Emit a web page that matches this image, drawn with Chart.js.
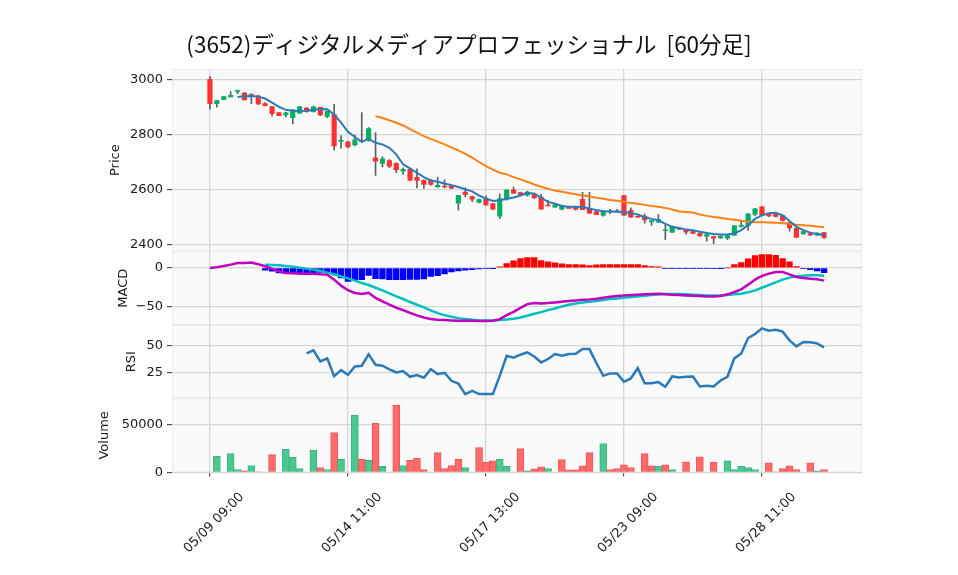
<!DOCTYPE html>
<html>
<head>
<meta charset="utf-8">
<script src="https://cdn.jsdelivr.net/npm/chart.js@4.4.1/dist/chart.umd.min.js"></script>
<style>
html, body { margin: 0; padding: 0; background: #fff; }
</style>
</head>
<body>
<canvas id="chart" width="958" height="575"></canvas>
<script>
// (3652) 60-minute bars, 05/09 09:00 .. 05/29 14:00
var titleText = '(3652)ディジタルメディアプロフェッショナル  [60分足]';
var tickIdx = [0, 20, 40, 60, 80];
var tickLabels = ['05/09 09:00', '05/14 11:00', '05/17 13:00', '05/23 09:00', '05/28 11:00'];
var priceTicks = [2400, 2600, 2800, 3000];
var macdTicks = [-50, 0];
var rsiTicks = [25, 50];
var volTicks = [0, 50000];

var opens = [3000, 2911, 2926, 2936, 2955, 2950, 2944, 2940, 2912, 2901,
  2879, 2870, 2860, 2877, 2895, 2882, 2898, 2865, 2872, 2774,
  2772, 2761, 2773, 2778, 2714, 2694, 2704, 2694, 2666, 2672,
  2643, 2632, 2633, 2608, 2610, 2612, 2549, 2590, 2573, 2552,
  2563, 2548, 2502, 2563, 2598, 2588, 2578, 2583, 2571, 2541,
  2535, 2527, 2537, 2536, 2563, 2530, 2519, 2506, 2517, 2521,
  2577, 2523, 2501, 2502, 2481, 2480, 2449, 2444, 2457, 2451,
  2446, 2439, 2429, 2428, 2423, 2422, 2433, 2465, 2467, 2508,
  2536, 2508, 2511, 2504, 2479, 2458, 2437, 2439, 2433, 2442];
var highs = [3010, 2923, 2937, 2955, 2961, 2953, 2948, 2941, 2915, 2901,
  2879, 2881, 2889, 2903, 2897, 2903, 2898, 2885, 2909, 2795,
  2774, 2797, 2879, 2824, 2806, 2718, 2708, 2696, 2678, 2676,
  2674, 2634, 2636, 2644, 2634, 2614, 2578, 2605, 2575, 2564,
  2575, 2549, 2583, 2599, 2608, 2590, 2593, 2586, 2581, 2559,
  2550, 2542, 2538, 2537, 2589, 2589, 2520, 2522, 2527, 2527,
  2578, 2532, 2502, 2510, 2487, 2508, 2470, 2466, 2458, 2452,
  2447, 2444, 2436, 2429, 2430, 2432, 2468, 2486, 2511, 2530,
  2537, 2512, 2514, 2506, 2480, 2459, 2447, 2440, 2441, 2443];
var lows = [2891, 2899, 2926, 2936, 2948, 2925, 2911, 2908, 2903, 2866,
  2868, 2863, 2838, 2877, 2880, 2880, 2868, 2860, 2742, 2749,
  2750, 2758, 2769, 2775, 2650, 2681, 2678, 2660, 2654, 2630,
  2605, 2603, 2614, 2607, 2605, 2602, 2524, 2572, 2555, 2550,
  2541, 2526, 2493, 2560, 2584, 2580, 2575, 2566, 2527, 2539,
  2535, 2525, 2530, 2524, 2526, 2511, 2507, 2502, 2511, 2517,
  2505, 2497, 2497, 2476, 2468, 2479, 2416, 2442, 2454, 2436,
  2437, 2428, 2411, 2402, 2421, 2416, 2432, 2462, 2450, 2503,
  2504, 2500, 2498, 2484, 2447, 2425, 2436, 2432, 2432, 2420];
var closes = [2911, 2923, 2937, 2942, 2957, 2925, 2940, 2910, 2904, 2875,
  2868, 2878, 2889, 2900, 2882, 2900, 2870, 2883, 2758, 2778,
  2754, 2780, 2777, 2821, 2702, 2711, 2684, 2670, 2672, 2633,
  2632, 2617, 2617, 2614, 2608, 2604, 2578, 2580, 2564, 2562,
  2543, 2527, 2566, 2597, 2586, 2581, 2590, 2569, 2527, 2539,
  2542, 2540, 2530, 2527, 2526, 2513, 2507, 2520, 2519, 2518,
  2506, 2498, 2498, 2488, 2486, 2490, 2451, 2464, 2455, 2444,
  2439, 2430, 2435, 2422, 2429, 2431, 2467, 2469, 2510, 2529,
  2505, 2503, 2501, 2486, 2459, 2425, 2446, 2433, 2440, 2425];
var volumes = [0, 16800, 0, 19600, 3100, 1700, 7300, 700, 0, 18500,
  0, 24100, 15700, 4200, 0, 23100, 5200, 3100, 41600, 13600,
  0, 59800, 13600, 12600, 51100, 6300, 0, 69900, 7300, 12600,
  14700, 3100, 0, 20600, 4200, 7300, 13600, 5200, 0, 25900,
  10500, 12200, 13600, 6300, 0, 24800, 1700, 3800, 5900, 4200,
  0, 13300, 2800, 2800, 7000, 20600, 0, 30100, 3100, 4200,
  8000, 5200, 0, 19600, 7000, 6300, 8000, 3100, 0, 11200,
  0, 16400, 0, 10500, 0, 12200, 3100, 6300, 5200, 3100,
  0, 10100, 700, 4200, 7000, 3100, 0, 10100, 1700, 3100];

var ma5 = [null, null, null, null, 2936, 2938, 2939, 2937, 2930, 2915,
  2900, 2889, 2886, 2885, 2886, 2889, 2892, 2891, 2872, 2842,
  2809, 2790, 2773, 2783, 2769, 2763, 2751, 2727, 2690, 2676,
  2660, 2644, 2632, 2627, 2621, 2615, 2608, 2600, 2592, 2577,
  2566, 2557, 2560, 2565, 2570, 2577, 2587, 2584, 2569, 2554,
  2547, 2539, 2536, 2536, 2535, 2530, 2524, 2520, 2519, 2518,
  2517, 2513, 2508, 2498, 2492, 2487, 2474, 2463, 2459, 2453,
  2451, 2445, 2441, 2437, 2435, 2435, 2439, 2451, 2469, 2492,
  2505, 2513, 2514, 2505, 2484, 2463, 2451, 2442, 2437, 2433];
var ma25 = [null, null, null, null, null, null, null, null, null, null,
  null, null, null, null, null, null, null, null, null, null,
  null, null, null, null, 2866, 2859, 2851, 2842, 2832, 2819,
  2806, 2793, 2783, 2773, 2763, 2752, 2741, 2729, 2715, 2699,
  2684, 2671, 2660, 2654, 2644, 2636, 2627, 2617, 2609, 2602,
  2595, 2591, 2586, 2582, 2577, 2574, 2569, 2565, 2561, 2558,
  2554, 2550, 2547, 2543, 2539, 2536, 2532, 2526, 2519, 2517,
  2515, 2508, 2503, 2499, 2496, 2492, 2489, 2485, 2482, 2480,
  2480, 2479, 2478, 2476, 2474, 2471, 2469, 2467, 2464, 2462];

var macd = [0, 0.9, 2.6, 4.3, 6.5, 6.5, 7, 4.8, 2.2, -0.9,
  -4.3, -6.5, -7, -7.4, -7.4, -7.4, -8.3, -8.7, -15.2, -23,
  -29, -32.6, -33.9, -32.2, -39, -43.5, -47.8, -51.7, -54.8, -58.3,
  -61.7, -64.3, -66.5, -67.4, -67.8, -68.3, -68.7, -68.7, -68.7, -69.1,
  -69.1, -68.7, -66.5, -61.3, -57, -52, -47, -45.7, -46.1, -45.7,
  -44.8, -43.9, -43, -42.2, -41.3, -40.9, -40, -38.7, -37.4, -36.5,
  -35.7, -35.2, -34.8, -34.3, -33.9, -33.5, -34.3, -34.8, -35.2, -35.7,
  -36.1, -36.5, -37, -37, -36.5, -34.3, -31.3, -27.8, -21.7, -15.2,
  -10.4, -7.4, -5.2, -5.2, -8.3, -11.7, -13, -13.9, -14.8, -16.5];
var signal = [null, null, null, null, null, null, null, null, 4.3, 3.9,
  3.5, 2.6, 1.7, 0.4, -0.9, -2.2, -3.9, -6.1, -8.3, -10.9,
  -13.5, -16.5, -19.6, -22.2, -25.7, -29.1, -33, -37, -40.4, -44.3,
  -47.8, -51.3, -55.2, -58.7, -61.3, -63.5, -65.2, -66.5, -67.4, -68.3,
  -68.3, -68.3, -67.8, -67, -66, -64.5, -62.2, -59.6, -57.4, -54.8,
  -52.6, -50, -47.8, -46.1, -44.8, -43.9, -43, -41.7, -40.4, -39.6,
  -38.7, -37.8, -37, -36.1, -35.2, -34.3, -33.9, -33.9, -33.9, -34.3,
  -34.8, -35.2, -35.7, -35.7, -35.7, -35.2, -34.3, -33.5, -31.7, -29.1,
  -25.7, -22.2, -18.7, -15.2, -12.6, -10.9, -10, -9.6, -9.6, -10];
var hist = [null, null, null, null, null, null, null, null, -3, -4.3,
  -6.5, -7.4, -7.4, -7.4, -7, -6.5, -5.7, -4.8, -9.1, -13,
  -17.4, -16, -15.2, -9.6, -13.9, -14.3, -15.2, -15.2, -15.2, -14.8,
  -14.8, -14.3, -10.9, -10, -7.8, -5.2, -3.9, -3, -2.2, -1.3,
  -0.9, -0.4, 1.3, 5.7, 9.2, 12, 13.5, 13.5, 9.6, 7.8,
  6.5, 5.2, 4.3, 4.3, 3.9, 3, 3.9, 4.3, 4.3, 4.3,
  4.3, 4.3, 4.3, 3, 1.7, 1.3, -0.9, -0.9, -0.9, -0.9,
  -0.9, -0.9, -0.9, -0.9, -0.4, 0, 4.3, 7, 11.7, 16,
  17.4, 17.4, 16.5, 12.2, 7.8, 1.7, -0.9, -2.2, -3.9, -6.1];
var rsi = [null, null, null, null, null, null, null, null, null, null,
  null, null, null, null, 43.2, 46, 35.8, 38.6, 22.2, 27.8,
  23.5, 31.2, 31.8, 42.3, 32.7, 31.8, 28.4, 25.6, 26.9, 21.6,
  23.2, 20.7, 28.7, 24.1, 25.3, 17.9, 15.4, 5.6, 8.6, 5.6,
  5.6, 5.6, 22.5, 41, 39.3, 42, 44.1, 40.4, 34.9, 38,
  42.6, 41, 42.6, 42.9, 47.2, 47.2, 34.3, 22.5, 24.7, 24.7,
  17, 20.1, 29.6, 15.7, 15.7, 16.7, 12.4, 21.9, 21, 21.6,
  21.9, 12.7, 13.3, 12.7, 18.2, 21.6, 38.6, 43.2, 57.4, 61.1,
  66.4, 64.2, 65.1, 63.3, 55.2, 49.7, 53.7, 53.4, 52.5, 48.8];

var UP = '#00b060', DOWN = '#fe3032';
var VUP = '#4dc790', VDOWN = '#fd6b6c';
var GRID = '#d6d6d6';

function xy(arr) {
    return arr.map(function(v, i) { return { x: i, y: v }; });
}
function fixTicks(list) {
    return function(scale) {
        scale.ticks = list.map(function(v) { return { value: v }; });
    };
}
function minus(v) {
    return v < 0 ? '\u2212' + Math.abs(v) : String(v);
}

Chart.defaults.font.family = "'DejaVu Sans', sans-serif";
Chart.defaults.font.size = 13;
Chart.defaults.color = '#1a1a1a';

var wicks = [], bodies = [], bodyColors = [], volColors = [], volBorders = [];
for (var i = 0; i < opens.length; i++) {
    wicks.push({ x: i, y: [lows[i], highs[i]] });
    bodies.push({ x: i, y: [opens[i], closes[i]] });
    bodyColors.push(closes[i] >= opens[i] ? UP : DOWN);
    // volume colour follows close against previous close
    var up = i === 0 ? closes[0] >= opens[0] : closes[i] > closes[i - 1];
    volColors.push(up ? VUP : VDOWN);
    volBorders.push(up ? '#3bb37e' : '#ef5656');
}
var histColors = hist.map(function(v) { return v !== null && v < 0 ? '#0000ff' : '#ff0000'; });

var panelBg = {
    id: 'panelBg',
    beforeDraw: function(chart) {
        var ctx = chart.ctx, a = chart.chartArea;
        ['yP', 'yM', 'yR', 'yV'].forEach(function(id) {
            var s = chart.scales[id];
            ctx.save();
            ctx.fillStyle = '#fafafa';
            ctx.fillRect(a.left, s.top, a.right - a.left, s.bottom - s.top);
            ctx.strokeStyle = '#ebebeb';
            ctx.lineWidth = 1;
            ctx.strokeRect(a.left + 0.5, s.top + 0.5, a.right - a.left - 1, s.bottom - s.top - 1);
            ctx.restore();
        });
    }
};

function yAxis(weightOrder, stackWeight, min, max, ticks, title, titlePad, fmt) {
    return {
        type: 'linear',
        position: 'left',
        stack: 'panels',
        stackWeight: stackWeight,
        weight: weightOrder,
        min: min,
        max: max,
        afterBuildTicks: fixTicks(ticks),
        afterFit: function(s) { s.width = 96; },
        ticks: { padding: 4, callback: fmt },
        grid: { color: GRID, lineWidth: 1.3, tickColor: '#333', tickLength: 5, tickWidth: 1 },
        border: { display: false },
        title: { display: true, text: title, padding: { top: titlePad, bottom: 0 }, font: { size: 13 } }
    };
}

new Chart(document.getElementById('chart'), {
    type: 'bar',
    data: {
        datasets: [
            { type: 'line', label: 'MA5', data: xy(ma5), yAxisID: 'yP', borderColor: '#2a7ab9', borderWidth: 2, pointRadius: 0, order: 0 },
            { type: 'line', label: 'MA25', data: xy(ma25), yAxisID: 'yP', borderColor: '#ff8112', borderWidth: 2, pointRadius: 0, order: 0 },
            { label: 'body', data: bodies, yAxisID: 'yP', backgroundColor: bodyColors, barThickness: 4.5, minBarLength: 1, grouped: false, order: 1 },
            { label: 'wick', data: wicks, yAxisID: 'yP', backgroundColor: '#606060', barThickness: 1, grouped: false, order: 2 },
            { type: 'line', label: 'MACD', data: xy(macd), yAxisID: 'yM', borderColor: '#bf00bf', borderWidth: 2.5, pointRadius: 0, order: 0 },
            { type: 'line', label: 'Signal', data: xy(signal), yAxisID: 'yM', borderColor: '#00bfbf', borderWidth: 2.5, pointRadius: 0, order: 0 },
            { label: 'Hist', data: xy(hist), yAxisID: 'yM', backgroundColor: histColors, barThickness: 5.7, grouped: false, order: 3 },
            { type: 'line', label: 'RSI', data: xy(rsi), yAxisID: 'yR', borderColor: '#2a7ab9', borderWidth: 2.5, pointRadius: 0, order: 0 },
            { label: 'Volume', data: xy(volumes), yAxisID: 'yV', backgroundColor: volColors, borderColor: volBorders, borderWidth: 1, barThickness: 7, grouped: false, order: 3 }
        ]
    },
    options: {
        responsive: false,
        animation: false,
        layout: { padding: { left: 76, right: 96, top: 0, bottom: 0 } },
        plugins: {
            legend: { display: false },
            tooltip: { enabled: false },
            title: {
                display: true,
                text: titleText,
                color: '#111',
                font: { family: "'Noto Sans CJK JP', sans-serif", size: 22.5, weight: 'normal' },
                padding: { top: 31, bottom: 11 }
            }
        },
        scales: {
            x: {
                type: 'linear',
                position: 'bottom',
                offset: false,
                min: -5.5,
                max: 94.5,
                afterBuildTicks: fixTicks(tickIdx),
                afterFit: function(s) { s.height = 102.5; },
                ticks: {
                    autoSkip: false, minRotation: 45, maxRotation: 45,
                    labelOffset: 32, padding: 13,
                    callback: function(v) { return tickLabels[tickIdx.indexOf(v)]; }
                },
                grid: { offset: false, color: GRID, lineWidth: 1.3, tickColor: '#333', tickLength: 4, tickWidth: 1 },
                border: { display: false }
            },
            yP: yAxis(4, 182, 2374, 3037.5, priceTicks, 'Price', 32, function(v) { return String(v); }),
            yM: yAxis(3, 73.6, -74.2, 21.6, macdTicks, 'MACD', 40, minus),
            yR: yAxis(2, 73, 1.85, 69.4, rsiTicks, 'RSI', 48, function(v) { return String(v); }),
            yV: yAxis(1, 74.2, 0, 77250, volTicks, 'Volume', 21, function(v) { return String(v); })
        }
    },
    plugins: [panelBg]
});
</script>
</body>
</html>
